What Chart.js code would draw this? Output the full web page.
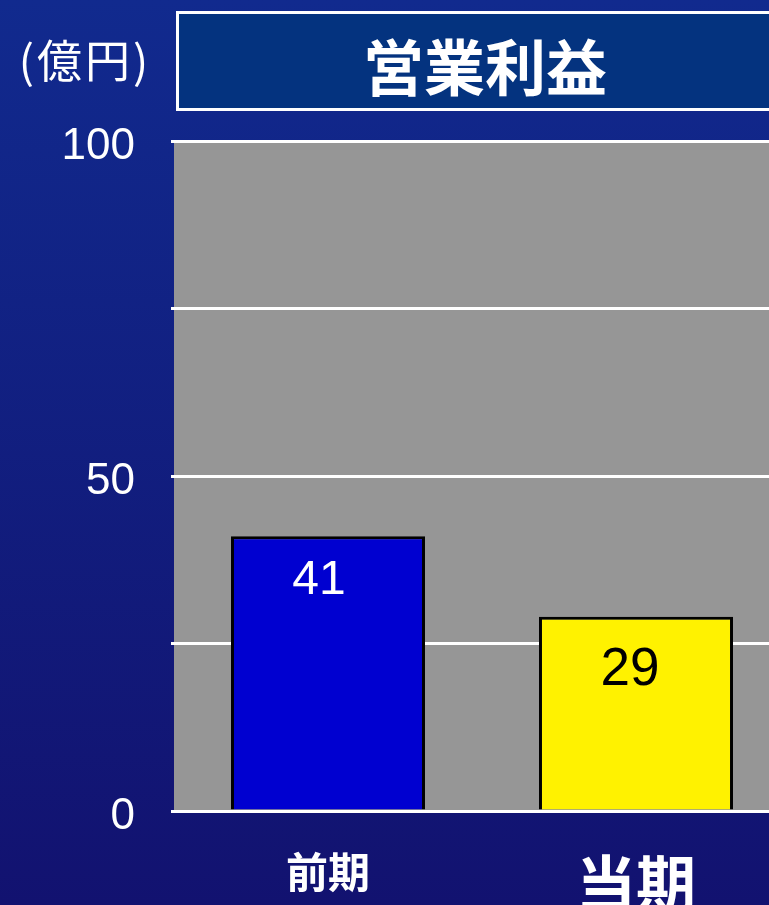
<!DOCTYPE html>
<html>
<head>
<meta charset="utf-8">
<script src="https://cdn.jsdelivr.net/npm/chart.js@4"></script>
<style>
  html, body { margin: 0; padding: 0; overflow: hidden; }
  body { width: 769px; height: 905px; background: linear-gradient(#112a8e, #121270); }
  #wrap { position: relative; width: 790px; height: 905px; }
</style>
</head>
<body>
<div id="wrap"><canvas id="myChart" width="790" height="905"></canvas></div>
<script>
var categories = ["前期", "当期"];
var profitValues = [41, 29];
var barColors = ["#0000d0", "#fff200"];
var labelColors = ["#ffffff", "#000000"];
var yTickLabels = { 0: "0", 50: "50", 100: "100" };
var chartTitle = "営業利益";
var unitLabel = "(億円)";

var FONT = "'Liberation Sans', 'Noto Sans CJK JP', sans-serif";
var CJK = "'Noto Sans CJK JP', sans-serif";

// gray plot background + title box + unit text + value labels
var decoPlugin = {
    id: "deco",
    beforeDraw: function(chart) {
        var ctx = chart.ctx, a = chart.chartArea;
        ctx.save();
        ctx.fillStyle = "#969696";
        ctx.fillRect(a.left, a.top, a.right - a.left, a.bottom - a.top);
        // title box
        ctx.fillStyle = "#04337f";
        ctx.fillRect(177, 12, 640, 97);
        ctx.strokeStyle = "#ffffff";
        ctx.lineWidth = 3;
        ctx.strokeRect(177.5, 12.5, 640, 97);
        ctx.fillStyle = "#ffffff";
        ctx.font = "bold 61px " + CJK;
        ctx.textAlign = "center";
        ctx.textBaseline = "middle";
        ctx.fillText(chartTitle, 485, 68);
        ctx.font = "45px " + CJK;
        ctx.letterSpacing = "3px";
        ctx.fillText(unitLabel, 85, 61);
        ctx.restore();
    },
    afterDatasetsDraw: function(chart) {
        var ctx = chart.ctx;
        var meta = chart.getDatasetMeta(0);
        ctx.save();
        ctx.textAlign = "center";
        ctx.textBaseline = "middle";
        meta.data.forEach(function(bar, i) {
            ctx.fillStyle = labelColors[i];
            ctx.font = (i === 0 ? "48px " : "53px ") + FONT;
            ctx.fillText(String(profitValues[i]), bar.x - (i === 0 ? 9 : 6), bar.y + (i === 0 ? 44 : 54));
        });
        ctx.restore();
    }
};

new Chart("myChart", {
    type: "bar",
    data: {
        labels: categories,
        datasets: [{
            data: profitValues,
            backgroundColor: barColors,
            borderColor: "#000000",
            borderWidth: 3,
            borderSkipped: "bottom",
            categoryPercentage: 1,
            barPercentage: 0.63
        }]
    },
    options: {
        responsive: false,
        animation: false,
        devicePixelRatio: 1,
        layout: { padding: { top: 141, right: 0, left: 0, bottom: 0 } },
        plugins: { legend: { display: false }, tooltip: { enabled: false } },
        scales: {
            x: {
                grid: { display: false },
                border: { display: false },
                afterFit: function(s) { s.height = 94; },
                ticks: {
                    color: "#ffffff",
                    padding: 28,
                    font: function(c) {
                        return c.index === 0
                            ? { family: CJK, size: 42, weight: "bold" }
                            : { family: CJK, size: 60, weight: "bold" };
                    }
                }
            },
            y: {
                min: 0,
                max: 100,
                afterFit: function(s) { s.width = 174; },
                border: { display: false },
                grid: { color: "#ffffff", lineWidth: 3, tickLength: 3 },
                ticks: {
                    stepSize: 25,
                    color: "#ffffff",
                    padding: 36,
                    labelOffset: 6,
                    font: { family: FONT, size: 44 },
                    callback: function(v) { return yTickLabels[v] || ""; }
                }
            }
        }
    },
    plugins: [decoPlugin]
});
</script>
</body>
</html>
